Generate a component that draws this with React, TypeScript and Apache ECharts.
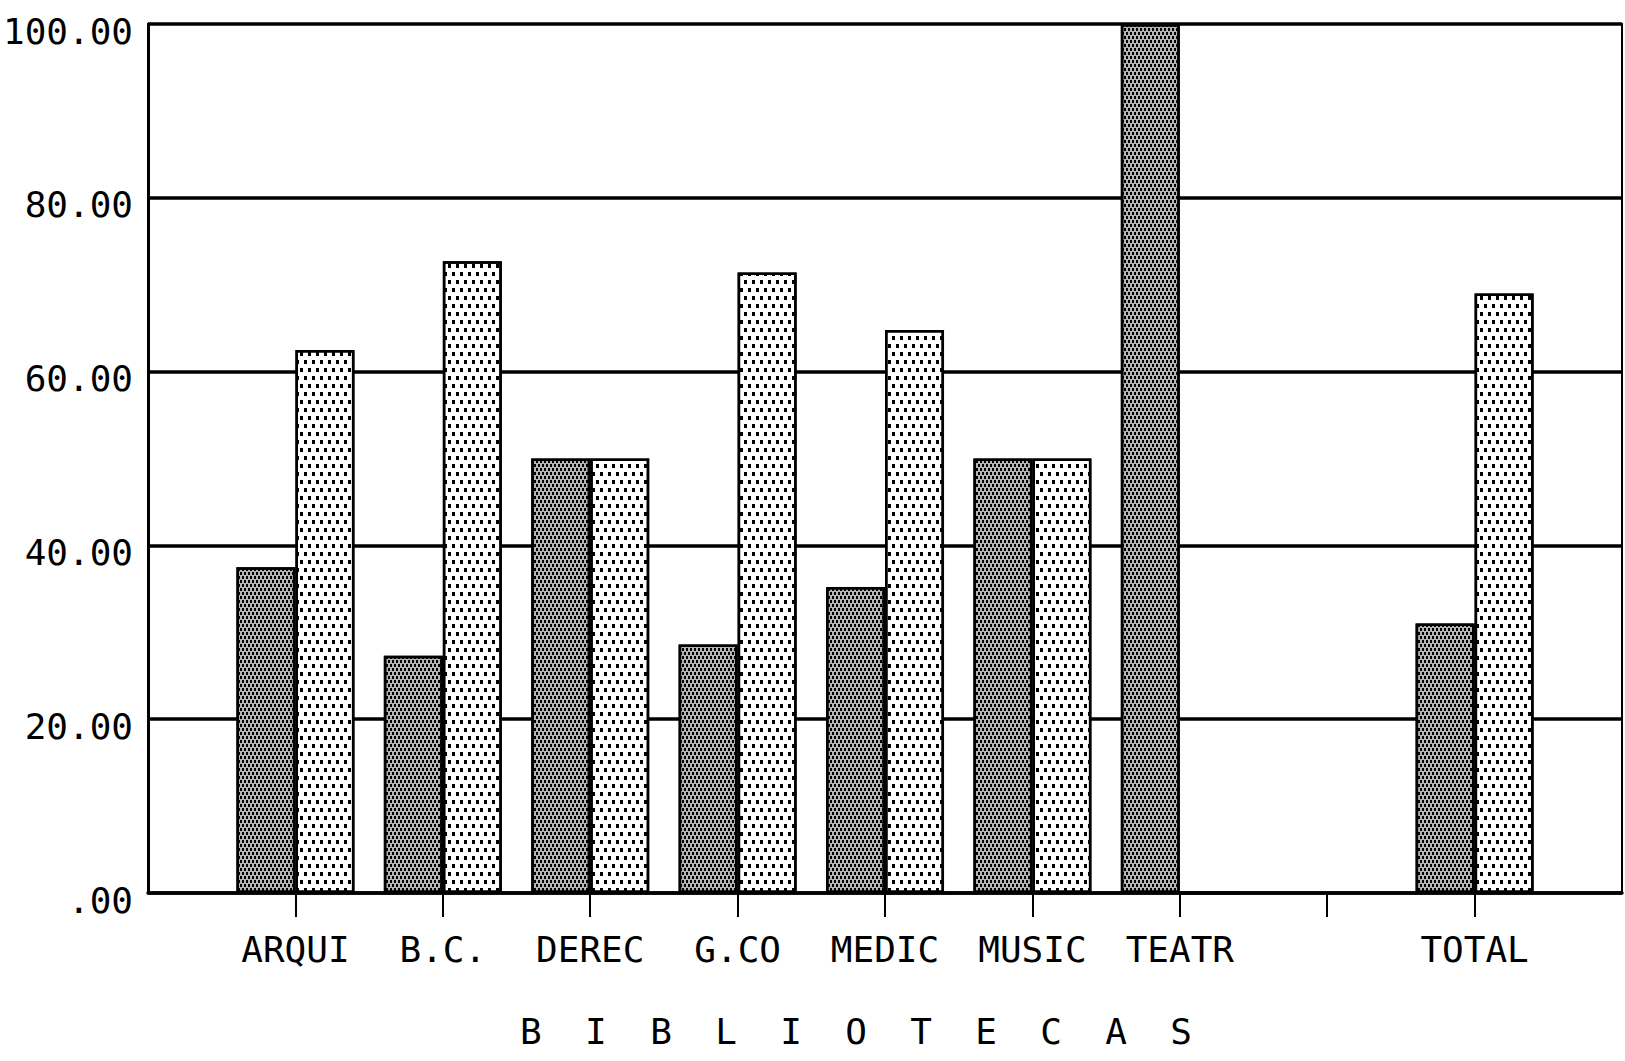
import React, { useEffect, useRef } from "react";
import * as echarts from "echarts";

const categories = ["", "ARQUI", "B.C.", "DEREC", "G.CO", "MEDIC", "MUSIC", "TEATR", "", "TOTAL", ""];
const darkValues = [null, 37.5, 27.3, 50, 28.6, 35.2, 50, 100, null, 31, null];
const lightValues = [null, 62.5, 72.7, 50, 71.4, 64.8, 50, 0, null, 69, null];
const yMin = 0;
const yMax = 100;
const yInterval = 20;
const axisTitleLetters = ["B", "I", "B", "L", "I", "O", "T", "E", "C", "A", "S"];

const FONT = "DejaVu Sans Mono";

export default function App() {
  const ref = useRef<HTMLDivElement>(null);
  useEffect(() => {
    const chart = echarts.init(ref.current as HTMLDivElement, null, { renderer: "svg" });
    const lastIdx = categories.length - 1;
    chart.setOption({
      animation: false,
      backgroundColor: "#ffffff",
      grid: {
        left: 148,
        right: 3,
        top: 24,
        bottom: 168,
        show: true,
        borderColor: "#000",
        borderWidth: 2,
      },
      xAxis: {
        type: "category",
        data: categories,
        boundaryGap: false,
        axisLine: { show: true, lineStyle: { color: "#000", width: 3.5 } },
        axisTick: {
          show: true,
          length: 24,
          lineStyle: { color: "#000", width: 2 },
          interval: (index: number) => index !== 0 && index !== lastIdx,
        },
        axisLabel: {
          interval: 0,
          color: "#000",
          fontFamily: FONT,
          fontSize: 36,
          margin: 38,
        },
        splitLine: { show: false },
        name: axisTitleLetters.join("  "),
        nameLocation: "middle",
        nameGap: 120,
        nameTextStyle: {
          color: "#000",
          fontFamily: FONT,
          fontSize: 36,
          padding: [0, 58, 0, 0],
        },
      },
      yAxis: {
        type: "value",
        min: yMin,
        max: yMax,
        interval: yInterval,
        axisLine: { show: true, lineStyle: { color: "#000", width: 3 } },
        axisTick: { show: false },
        axisLabel: {
          color: "#000",
          fontFamily: FONT,
          fontSize: 36,
          margin: 15,
          verticalAlign: "top",
          lineHeight: 14,
          formatter: (v: number) => (v === 0 ? ".00" : v.toFixed(2)),
        },
        splitLine: { show: true, lineStyle: { color: "#000", width: 3.5 } },
      },
      series: [
        {
          type: "bar",
          data: darkValues,
          barWidth: 59,
          barGap: "0%",
          itemStyle: {
            color: "#b4b4b4",
            borderColor: "#000",
            borderWidth: 2.5,
            decal: {
              symbol: "rect",
              symbolSize: 1,
              color: "#000",
              dashArrayX: [[2, 1.5], [0, 1.75, 2, 0]],
              dashArrayY: [2.5, 1],
              rotation: 0,
            },
          },
        },
        {
          type: "bar",
          data: lightValues,
          barWidth: 59,
          barGap: "0%",
          itemStyle: {
            color: "#ffffff",
            borderColor: "#000",
            borderWidth: 2.5,
            decal: {
              symbol: "rect",
              symbolSize: 1,
              color: "#000",
              dashArrayX: [[2.5, 4.5], [0, 3.5, 2.5, 1]],
              dashArrayY: [4, 4],
              rotation: 0,
            },
          },
        },
      ],
    });
    return () => chart.dispose();
  }, []);
  return (
    <div
      ref={ref}
      style={{ position: "fixed", left: 0, top: 0, width: 1625, height: 1061, background: "#fff" }}
    />
  );
}
